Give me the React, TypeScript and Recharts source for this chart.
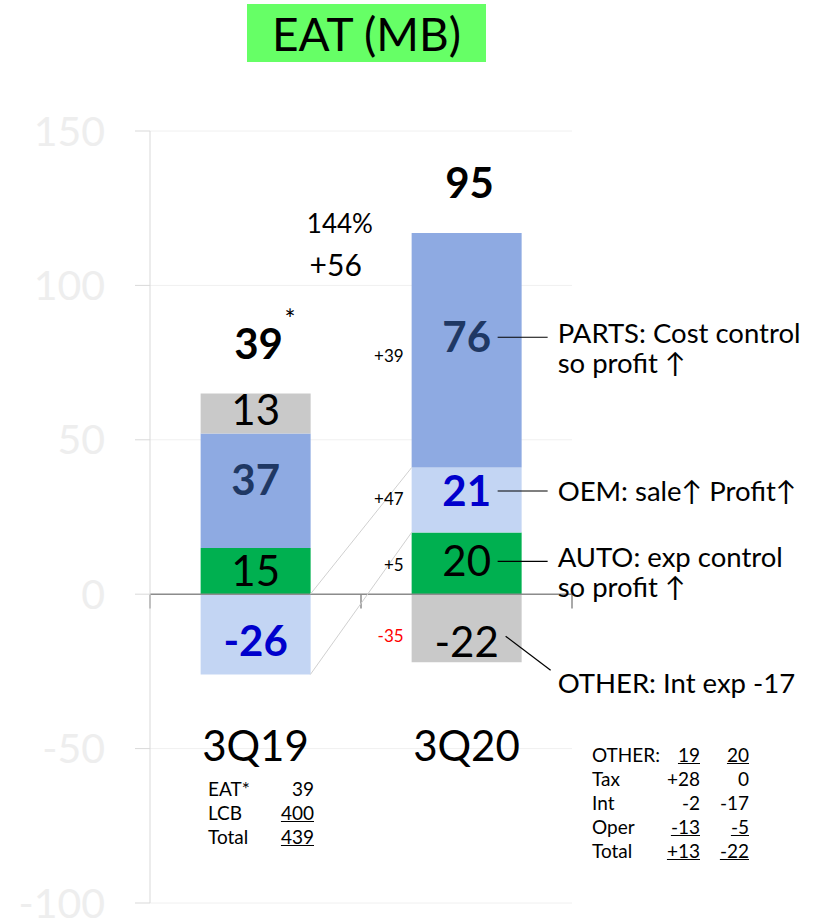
import React from 'react';
import {
  ComposedChart,
  Bar,
  XAxis,
  YAxis,
  CartesianGrid,
  ReferenceLine,
  ReferenceDot,
  LabelList,
} from 'recharts';

// ---------- data ----------
const categories = ['3Q19', '3Q20'];
const autoValues = [15, 20];
const oemValues = [-26, 21];
const partsValues = [37, 76];
const otherValues = [13, -22];
const yTicks = [-100, -50, 0, 50, 100, 150];
const totalMarks = ['*', ''];

const partsNote = ['PARTS: Cost control', 'so profit ↑'];
const oemNote = ['OEM: sale↑ Profit↑'];
const autoNote = ['AUTO: exp control', 'so profit ↑'];
const otherNote = ['OTHER: Int exp -17'];

const eatRows = [
  ['EAT*', '39', ''],
  ['LCB', '400', 'u'],
  ['Total', '439', 'u'],
];
const otherHeader = ['OTHER:', '19', '20'];
const otherRows = [
  ['Tax', '+28', '0', ''],
  ['Int', '-2', '-17', ''],
  ['Oper', '-13', '-5', 'u'],
  ['Total', '+13', '-22', 'u'],
];

// ---------- derived ----------
const series = [
  { key: 'AUTO', values: autoValues, fill: '#00B050', color: '#000000', bold: false, note: autoNote, shift: [0, -2], dshift: 2 },
  { key: 'OEM', values: oemValues, fill: '#C3D5F3', color: '#0000CC', bold: true, note: oemNote, shift: [7, -9], dshift: -1 },
  { key: 'PARTS', values: partsValues, fill: '#8EAAE2', color: '#1F3864', bold: true, note: partsNote, shift: [-11, -13], dshift: 6 },
  { key: 'OTHER', values: otherValues, fill: '#C9C9C9', color: '#000000', bold: false, note: otherNote, shift: [-4, 14], dshift: 8 },
];

const data = categories.map((c, i) => {
  const row: any = { cat: c };
  series.forEach((s) => (row[s.key] = s.values[i]));
  return row;
});
const totals = categories.map((_, i) => series.reduce((a, s) => a + s.values[i], 0));
const tops = categories.map((_, i) => series.reduce((a, s) => a + Math.max(0, s.values[i]), 0));
const change = totals[1] - totals[0];
const changePct = Math.round((change / totals[0]) * 100);

const GAP = 0.24; // bar category gap fraction on each side
const FONT = 'Lato, "Open Sans", sans-serif';
// position along the x axis in "category units" (0..n) mapped to the 0..1 helper axis
const cx = (v: number) => v / categories.length;

const W = 835;
const H = 923;

function makeSegmentLabel(s: any) {
  return (p: any) => {
    const { x, y, width, height, index, value } = p;
    const mx = x + width / 2;
    const my = y + height / 2;
    const cy = my + s.shift[index];
    const els: any[] = [
      <text
        key="v"
        x={mx}
        y={cy}
        dy="0.36em"
        textAnchor="middle"
        fontSize={42}
        fontWeight={s.bold ? 700 : 400}
        fill={s.color}
        fontFamily={FONT}
      >
        {value}
      </text>,
    ];
    if (index === 1) {
      const delta = s.values[1] - s.values[0];
      els.push(
        <text
          key="d"
          x={x - 8}
          y={my + s.dshift}
          dy="0.36em"
          textAnchor="end"
          fontSize={17}
          fill={delta < 0 ? '#FF0000' : '#000000'}
          fontFamily={FONT}
        >
          {delta > 0 ? `+${delta}` : `${delta}`}
        </text>
      );
      const right = x + width;
      const diag = s.values[1] < 0;
      if (diag) {
        els.push(
          <line key="l" x1={right - 16} y1={cy - 6} x2={right + 29} y2={cy + 28} stroke="#000" strokeWidth={1.2} />
        );
      } else {
        els.push(
          <line key="l" x1={right - 24} y1={cy} x2={right + 26} y2={cy} stroke="#000" strokeWidth={1.2} />
        );
      }
      const ty = diag ? cy + 41 : cy - (s.note.length > 1 ? 4 : 0);
      s.note.forEach((t: string, k: number) => {
        els.push(
          <text
            key={'n' + k}
            x={right + 36}
            y={ty + k * 30}
            dy="0.36em"
            fontSize={27.5}
            fill="#000"
            fontFamily={FONT}
          >
            {t}
          </text>
        );
      });
    }
    return <g>{els}</g>;
  };
}

const TotalLabel = (props: any) => {
  const { viewBox, value, mark } = props;
  const px = viewBox.x + viewBox.width / 2;
  const py = viewBox.y + viewBox.height / 2 - 50;
  return (
    <g>
      <text x={px + 3} y={py} dy="0.36em" textAnchor="middle" fontFamily={FONT} fill="#000" fontSize={42} fontWeight={700}>
        {value}
      </text>
      {mark ? (
        <text x={px + 29} y={py - 24} dy="0.36em" fontFamily={FONT} fill="#000" fontSize={26}>
          {mark}
        </text>
      ) : null}
    </g>
  );
};

const TextLabel = (props: any) => {
  const { viewBox, value, size } = props;
  const px = viewBox.x + viewBox.width / 2;
  const py = viewBox.y + viewBox.height / 2;
  return (
    <text x={px} y={py} dy="0.36em" textAnchor="middle" fontFamily={FONT} fontSize={size} fill="#000">
      {value}
    </text>
  );
};

const u = (flag: string) => (flag ? { textDecoration: 'underline' } : {});

export default function App() {
  return (
    <div style={{ position: 'absolute', left: 0, top: 0, width: W, height: H, background: '#fff', fontFamily: FONT }}>
      <ComposedChart
        width={W}
        height={H}
        data={data}
        stackOffset="sign"
        barCategoryGap={`${GAP * 100}%`}
        margin={{ top: 131, right: 263, bottom: 20, left: 0 }}
      >
        <CartesianGrid vertical={false} stroke="#F0F0F0" />
        <XAxis xAxisId="cat" dataKey="cat" hide />
        <XAxis xAxisId="num" type="number" domain={[0, 1]} allowDataOverflow hide />
        <YAxis
          domain={[-100, 150]}
          ticks={yTicks}
          interval={0}
          width={150}
          tickSize={15}
          tickMargin={30}
          axisLine={{ stroke: '#D9D9D9' }}
          tickLine={{ stroke: '#D9D9D9' }}
          tick={{ fill: '#EEEEEE', fontSize: 41, fontFamily: FONT }}
        />
        {series.map((s) => (
          <Bar key={s.key} xAxisId="cat" dataKey={s.key} stackId="a" fill={s.fill} isAnimationActive={false}>
            <LabelList dataKey={s.key} content={makeSegmentLabel(s)} />
          </Bar>
        ))}
        <ReferenceLine xAxisId="num" y={0} stroke="#8C8C8C" strokeWidth={1.5} />
        {[0, 1, 2].map((t) => (
          <ReferenceLine
            key={'t' + t}
            xAxisId="num"
            ifOverflow="extendDomain"
            segment={[
              { x: cx(t), y: 0 },
              { x: cx(t), y: -4.6 },
            ]}
            stroke="#8C8C8C"
            strokeWidth={1.5}
          />
        ))}
        <ReferenceLine
          xAxisId="num"
          segment={[
            { x: cx(1 - GAP), y: 0 },
            { x: cx(1 + GAP), y: autoValues[1] + oemValues[1] },
          ]}
          stroke="#D0D0D0"
          strokeWidth={1}
        />
        <ReferenceLine
          xAxisId="num"
          segment={[
            { x: cx(1 - GAP), y: oemValues[0] },
            { x: cx(1 + GAP), y: autoValues[1] },
          ]}
          stroke="#D0D0D0"
          strokeWidth={1}
        />
        {categories.map((c, i) => (
          <ReferenceDot
            key={'tot' + c}
            xAxisId="num"
            x={cx(i + 0.5)}
            y={tops[i]}
            r={0}
            fill="none"
            stroke="none"
            label={<TotalLabel value={totals[i]} mark={totalMarks[i]} />}
          />
        ))}
        {categories.map((c, i) => (
          <ReferenceDot
            key={'cat' + c}
            xAxisId="num"
            x={cx(i + 0.5)}
            y={-49}
            r={0}
            fill="none"
            stroke="none"
            label={<TextLabel value={c} size={42} />}
          />
        ))}
        <ReferenceDot
          xAxisId="num"
          x={cx(0.9)}
          y={120}
          r={0}
          fill="none"
          stroke="none"
          label={<TextLabel value={`${changePct}%`} size={26} />}
        />
        <ReferenceDot
          xAxisId="num"
          x={cx(0.88)}
          y={106.5}
          r={0}
          fill="none"
          stroke="none"
          label={<TextLabel value={`+${change}`} size={30} />}
        />
      </ComposedChart>

      <div
        style={{
          position: 'absolute',
          left: 247,
          top: 4,
          width: 239,
          height: 58,
          background: '#66FF66',
          display: 'flex',
          alignItems: 'center',
          justifyContent: 'center',
          fontSize: 46,
          color: '#000',
        }}
      >
        EAT (MB)
      </div>

      <div style={{ position: 'absolute', left: 208, top: 777, fontSize: 19, lineHeight: '24px', color: '#000' }}>
        {eatRows.map((r) => (
          <div key={r[0]} style={{ display: 'flex', width: 106, justifyContent: 'space-between' }}>
            <span>{r[0]}</span>
            <span style={u(r[2])}>{r[1]}</span>
          </div>
        ))}
      </div>

      <div style={{ position: 'absolute', left: 592, top: 743, fontSize: 19, lineHeight: '24px', color: '#000' }}>
        <div style={{ display: 'flex', width: 157 }}>
          <span style={{ width: 70 }}>{otherHeader[0]}</span>
          <span style={{ width: 38, textAlign: 'right', textDecoration: 'underline' }}>{otherHeader[1]}</span>
          <span style={{ width: 49, textAlign: 'right', textDecoration: 'underline' }}>{otherHeader[2]}</span>
        </div>
        {otherRows.map((r) => (
          <div key={r[0]} style={{ display: 'flex', width: 157 }}>
            <span style={{ width: 70 }}>{r[0]}</span>
            <span style={{ width: 38, textAlign: 'right', ...u(r[3]) }}>{r[1]}</span>
            <span style={{ width: 49, textAlign: 'right', ...u(r[3]) }}>{r[2]}</span>
          </div>
        ))}
      </div>
    </div>
  );
}
